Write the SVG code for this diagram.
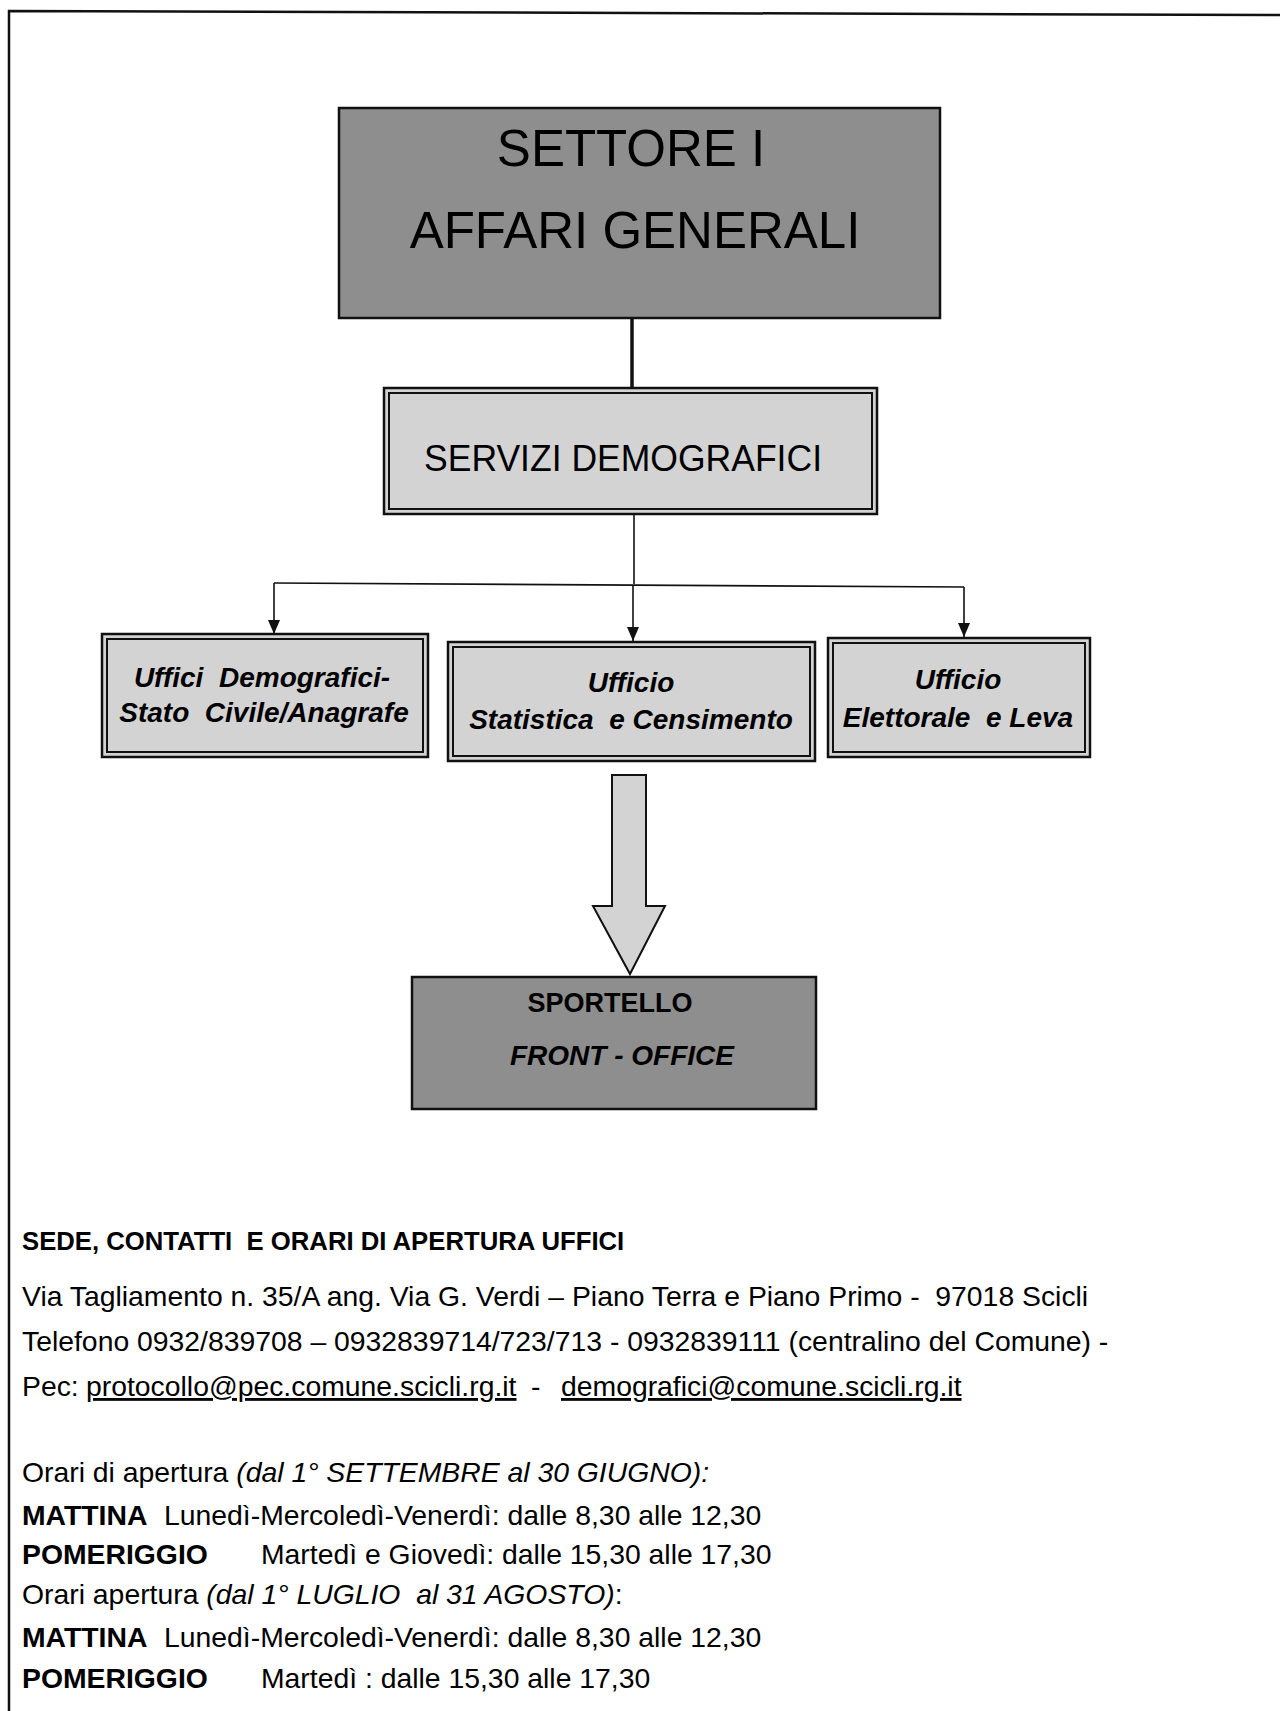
<svg xmlns="http://www.w3.org/2000/svg" width="1280" height="1711" viewBox="0 0 1280 1711">
<defs>
<style>
text{font-family:"Liberation Sans",Arial,sans-serif;fill:#000}
.dark{fill:#8e8e8e;stroke:#111;stroke-width:2.5}
.light{fill:#d3d3d3;stroke:#111;stroke-width:2.5}
.inner{fill:none;stroke:#111;stroke-width:2}
.bi{font-weight:bold;font-style:italic;font-size:28px}
.body{font-size:28.35px}
.b{font-weight:bold}
.i{font-style:italic}
.u{text-decoration:underline}
.conn{stroke:#111;fill:none}
</style>
<marker id="ah" markerWidth="14" markerHeight="12" refX="14" refY="6" orient="auto" markerUnits="userSpaceOnUse" viewBox="0 0 14 12">
<path d="M0,0 L14,6 L0,12 Z" fill="#111"/>
</marker>
</defs>
<rect width="1280" height="1711" fill="#fff"/>
<polyline points="9,1711 9,11 1280,15" fill="none" stroke="#111" stroke-width="2.5"/>

<g id="connectors">
<line class="conn" x1="632" y1="318" x2="632" y2="388" stroke-width="3.5"/>
<line class="conn" x1="634" y1="514" x2="634" y2="584" stroke-width="1.6"/>
<polyline class="conn" points="274,583 964,587" stroke-width="1.6"/>
<line class="conn" x1="274" y1="583" x2="274" y2="634" stroke-width="1.6" marker-end="url(#ah)"/>
<line class="conn" x1="633" y1="585" x2="633" y2="641" stroke-width="1.6" marker-end="url(#ah)"/>
<line class="conn" x1="964" y1="587" x2="964" y2="637" stroke-width="1.6" marker-end="url(#ah)"/>
<polygon points="612,775 646,775 646,906 665,906 630,974 593,906 612,906" fill="#d3d3d3" stroke="#111" stroke-width="2"/>
</g>

<g id="settore">
<rect class="dark" x="339" y="108" width="601" height="210"/>
<text x="631" y="166" font-size="51" text-anchor="middle">SETTORE I</text>
<text x="635" y="248" font-size="51" text-anchor="middle">AFFARI GENERALI</text>
</g>

<g id="servizi">
<rect class="light" x="384" y="388" width="493" height="126"/>
<rect class="inner" x="389" y="393" width="483" height="116"/>
<text x="623" y="471" font-size="37" text-anchor="middle" textLength="398" lengthAdjust="spacingAndGlyphs">SERVIZI DEMOGRAFICI</text>
</g>

<g id="uffici-demografici">
<rect class="light" x="102" y="634" width="326" height="123"/>
<rect class="inner" x="107" y="639" width="316" height="113"/>
<text class="bi" x="262" y="687" text-anchor="middle" xml:space="preserve">Uffici  Demografici-</text>
<text class="bi" x="264" y="722" text-anchor="middle" xml:space="preserve">Stato  Civile/Anagrafe</text>
</g>

<g id="ufficio-statistica">
<rect class="light" x="448" y="642" width="367" height="119"/>
<rect class="inner" x="453" y="647" width="357" height="109"/>
<text class="bi" x="631" y="692" text-anchor="middle">Ufficio</text>
<text class="bi" x="631" y="729" text-anchor="middle" xml:space="preserve">Statistica  e Censimento</text>
</g>

<g id="ufficio-elettorale">
<rect class="light" x="828" y="638" width="262" height="119"/>
<rect class="inner" x="833" y="643" width="252" height="109"/>
<text class="bi" x="958" y="689" text-anchor="middle">Ufficio</text>
<text class="bi" x="958" y="727" text-anchor="middle" xml:space="preserve">Elettorale  e Leva</text>
</g>

<g id="sportello">
<rect class="dark" x="412" y="977" width="404" height="132"/>
<text x="610" y="1012" font-size="27" font-weight="bold" text-anchor="middle">SPORTELLO</text>
<text class="bi" x="622" y="1065" text-anchor="middle">FRONT - OFFICE</text>
</g>

<g id="info">
<text x="22" y="1250" font-size="25.7" font-weight="bold" xml:space="preserve">SEDE, CONTATTI  E ORARI DI APERTURA UFFICI</text>
<text class="body" x="22" y="1306" xml:space="preserve">Via Tagliamento n. 35/A ang. Via G. Verdi – Piano Terra e Piano Primo -  97018 Scicli</text>
<text class="body" x="22" y="1351">Telefono 0932/839708 – 0932839714/723/713 - 0932839111 (centralino del Comune) -</text>
<text class="body" x="22" y="1396">Pec: <tspan class="u" x="86">protocollo@pec.comune.scicli.rg.it</tspan><tspan x="531">-</tspan><tspan class="u" x="561">demografici@comune.scicli.rg.it</tspan></text>
<text class="body" x="22" y="1482">Orari di apertura <tspan class="i">(dal 1° SETTEMBRE al 30 GIUGNO):</tspan></text>
<text class="body" x="22" y="1525"><tspan class="b">MATTINA</tspan><tspan x="164">Lunedì-Mercoledì-Venerdì: dalle 8,30 alle 12,30</tspan></text>
<text class="body" x="22" y="1564"><tspan class="b">POMERIGGIO</tspan><tspan x="261">Martedì e Giovedì: dalle 15,30 alle 17,30</tspan></text>
<text class="body" x="22" y="1604" xml:space="preserve">Orari apertura <tspan class="i">(dal 1° LUGLIO  al 31 AGOSTO)</tspan>:</text>
<text class="body" x="22" y="1647"><tspan class="b">MATTINA</tspan><tspan x="164">Lunedì-Mercoledì-Venerdì: dalle 8,30 alle 12,30</tspan></text>
<text class="body" x="22" y="1688"><tspan class="b">POMERIGGIO</tspan><tspan x="261">Martedì : dalle 15,30 alle 17,30</tspan></text>
</g>
</svg>
